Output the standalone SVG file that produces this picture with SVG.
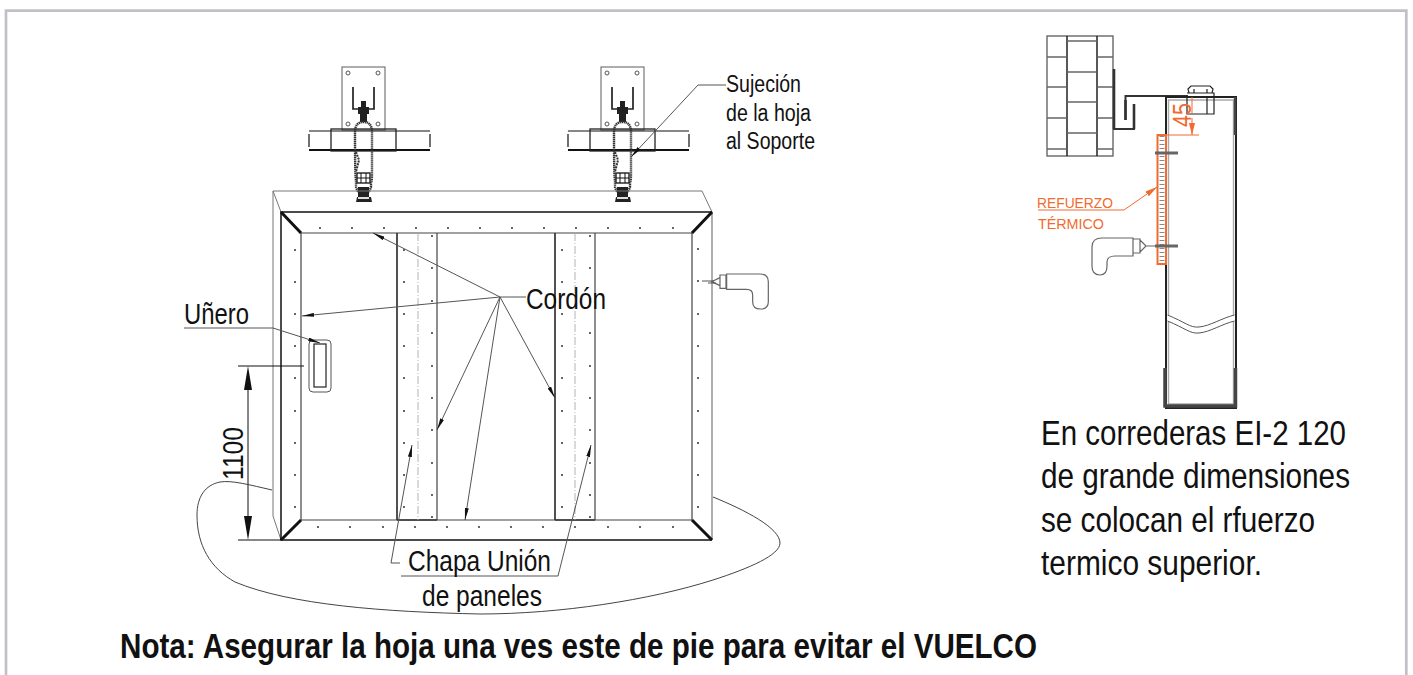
<svg xmlns="http://www.w3.org/2000/svg" width="1413" height="675" viewBox="0 0 1413 675">
<style>
text{font-family:"Liberation Sans",Arial,sans-serif;fill:#111}
.l{fill:none;stroke:#111;stroke-width:1}
.g{fill:none;stroke:#555;stroke-width:1}
.m{fill:none;stroke:#333;stroke-width:1.7}
.t{fill:none;stroke:#444;stroke-width:1.2}
.h{fill:none;stroke:#111;stroke-width:3}
.b{fill:none;stroke:#666;stroke-width:1.5}
.dot{fill:none;stroke:#444;stroke-width:2.2;stroke-linecap:round}
.o{fill:none;stroke:#f26a2e;stroke-width:1}
.ot{fill:#f26a2e;font-size:14px}
.ah{fill:#111}
</style>
<defs>
<marker id="arr" viewBox="0 0 12 4" refX="12" refY="2" markerWidth="12" markerHeight="4" markerUnits="userSpaceOnUse" orient="auto"><path d="M0 0L12 2L0 4z" fill="#111"/></marker>
<marker id="arrO" viewBox="0 0 12 6" refX="12" refY="3" markerWidth="12" markerHeight="6" markerUnits="userSpaceOnUse" orient="auto"><path d="M0 0L12 3L0 6z" fill="#f26a2e"/></marker>
<g id="hanger">
<rect x="342" y="67" width="43" height="63" fill="#fff" stroke="#777" stroke-width="1.2"/>
<circle cx="348" cy="73" r="2" class="g"/><circle cx="378" cy="73" r="2" class="g"/><circle cx="348" cy="124" r="2" class="g"/><circle cx="378" cy="124" r="2" class="g"/>
<path class="m" style="stroke:#222" d="M353 87V109H374V87"/>
<path class="l" style="stroke-width:1.2" d="M309 131H430M309 134V147M430 134V147"/>
<path class="l" style="stroke-width:1.8" d="M309 150H430"/>
<rect x="331" y="129" width="65" height="22" fill="none" stroke="#222" stroke-width="1.3"/>
<path d="M361 101h5v6h3v7h-11v-7h3zM360 114h7v8h-7z" fill="#222"/>
<path fill="none" stroke="#333" stroke-width="2.4" stroke-dasharray="1.4 .6" d="M355 132Q355 122 363.500 122Q372 122 372 132V175Q372 180 371 183V187Q369 194 363.500 194Q358 194 356 187V180Q355 178 355 132z"/>
<path fill="none" stroke="#333" stroke-width="2" stroke-dasharray="2 1" d="M356 152L359 160L356 172"/>
<rect x="357" y="173" width="13" height="10" fill="#fff" stroke="#222" stroke-width="1.4"/>
<path class="l" d="M357 178H370M361 173V183M366 173V183"/>
<path d="M358 187H369V197H371L372 202H356L357 197H358z" fill="#222"/>
<path d="M358 197h11v2h-11z" fill="#ddd"/>
</g>
<path id="drillR" fill="none" stroke="#666" stroke-width="3.600" d="M380 252H480Q505 252 505 275V335Q505 357 482 357Q458 357 458 335V315Q458 298 440 298H380ZM360 255H378V295H360ZM360 263L335 275L360 287"/>
</defs>

<g id="marco"><path d="M6 675V10.700H1406.300V675" fill="none" stroke="#c2c0c6" stroke-width="2.700"/></g>

<g id="soporte-1"><use href="#hanger"/></g>
<g id="soporte-2"><use href="#hanger" x="259"/></g>

<g id="hoja">
<path class="g" style="stroke:#777" d="M281 212L273 191H702L712 212M273 191V516L281 540"/>
<path class="l" style="stroke-width:1.5" d="M712 212H281V540H712"/>
<path class="g" style="stroke:#777;stroke-width:1.2" d="M712 212V540"/>
<path class="t" d="M301 233H692V520H301Z"/>
<path class="h" d="M281 212L301 233M712 212L692 233M281 540L301 520M712 540L692 520"/>
<path class="dot" d="M320 228h0M352 228h0M384 228h0M416 228h0M448 228h0M480 228h0M512 228h0M544 228h0M576 228h0M608 228h0M640 228h0M673 228h0
M318 527h0M350 527h0M383 527h0M415 527h0M447 527h0M479 527h0M511 527h0M543 527h0M575 527h0M608 527h0M640 527h0M673 527h0
M295 250h0M295 282h0M295 314h0M295 346h0M295 378h0M295 411h0M295 443h0M295 475h0M295 507h0
M698 249h0M698 281h0M698 314h0M698 346h0M698 378h0M698 411h0M698 443h0M698 475h0M698 507h0"/>
</g>

<g id="panel-1">
<path class="m" d="M397 233V520M397 520H437"/>
<path class="t" d="M437 233V520"/>
<path d="M418 233V520" fill="none" stroke="#aaa" stroke-width=".9" stroke-dasharray="8 2 1 2"/>
<path class="dot" d="M404 250h0M404 282h0M404 314h0M404 346h0M404 378h0M404 411h0M404 443h0M404 475h0M404 507h0M432 236h0M432 268h0M432 301h0M432 333h0M432 366h0M432 398h0M432 430h0M432 463h0M432 495h0M432 517h0"/>
</g>
<g id="panel-2">
<path class="m" d="M555 233V520M555 520H595"/>
<path class="t" d="M595 233V520"/>
<path d="M575 233V520" fill="none" stroke="#aaa" stroke-width=".9" stroke-dasharray="8 2 1 2"/>
<path class="dot" d="M562 250h0M562 282h0M562 314h0M562 346h0M562 378h0M562 411h0M562 443h0M562 475h0M562 507h0M590 236h0M590 268h0M590 301h0M590 333h0M590 366h0M590 398h0M590 430h0M590 463h0M590 495h0M590 517h0"/>
</g>

<g id="unero">
<rect x="309" y="340" width="22" height="52" rx="4" fill="#fff" stroke="#555" stroke-width="1"/>
<rect x="314" y="344" width="12" height="43" fill="none" stroke="#222" stroke-width="1.2"/>
<text x="184" y="324" font-size="29" textLength="65" lengthAdjust="spacingAndGlyphs">Uñero</text>
</g>

<g id="taladro-hoja"><use href="#drillR" transform="translate(600 190) scale(.3333)"/><path class="g" d="M702 281H714M708 283H716"/></g>

<g id="cota-1100">
<text transform="translate(243 480) rotate(-90)" font-size="29" textLength="53" lengthAdjust="spacingAndGlyphs">1100</text>
</g>

<g id="conectores">
<path class="g" d="M184 328H273L320 343" marker-end="url(#arr)"/>
<path class="g" d="M526 297H500L373 233" marker-end="url(#arr)"/>
<path class="g" d="M500 297L302 316" marker-end="url(#arr)"/>
<path class="g" d="M500 297L437 430" marker-end="url(#arr)"/>
<path class="g" d="M500 297L465 520" marker-end="url(#arr)"/>
<path class="g" d="M500 297L555 398" marker-end="url(#arr)"/>
<path class="g" d="M726 85H698L631 157" marker-end="url(#arr)"/>
<path class="g" d="M400 563H391L412 445" marker-end="url(#arr)"/>
<path class="g" d="M401 576H558L591 445" marker-end="url(#arr)"/>
<path class="l" d="M238 366H304M238 540H281"/>
<path class="l" d="M248 390V516"/>
<path d="M248 366L252 390H244ZM248 540L252 516H244Z" class="ah"/>
<path class="g" style="stroke:#444" d="M272 490C250 485 232 480 220 482C205 485 197 497 197 515C197 545 210 568 235 582C290 605 385 612 480 614C560 614 650 600 713 580C750 568 780 555 780 543C780 528 745 510 713 497"/>
</g>

<g id="textos">
<text x="726" y="92" font-size="23" textLength="75" lengthAdjust="spacingAndGlyphs">Sujeción</text>
<text x="726" y="121" font-size="23" textLength="85" lengthAdjust="spacingAndGlyphs">de la hoja</text>
<text x="726" y="149" font-size="23" textLength="89" lengthAdjust="spacingAndGlyphs">al Soporte</text>
<text x="526" y="309" font-size="30" textLength="80" lengthAdjust="spacingAndGlyphs">Cordón</text>
<text x="408" y="571" font-size="29" textLength="143" lengthAdjust="spacingAndGlyphs">Chapa Unión</text>
<text x="422" y="606" font-size="29" textLength="120" lengthAdjust="spacingAndGlyphs">de paneles</text>
<text x="120" y="658" font-size="35" font-weight="bold" textLength="917" lengthAdjust="spacingAndGlyphs">Nota: Asegurar la hoja una ves este de pie para evitar el VUELCO</text>
<text x="1041" y="445" font-size="35" textLength="305" lengthAdjust="spacingAndGlyphs">En correderas EI-2 120</text>
<text x="1041" y="488" font-size="35" textLength="309" lengthAdjust="spacingAndGlyphs">de grande dimensiones</text>
<text x="1041" y="532" font-size="35" textLength="274" lengthAdjust="spacingAndGlyphs">se colocan el rfuerzo</text>
<text x="1041" y="575" font-size="35" textLength="221" lengthAdjust="spacingAndGlyphs">termico superior.</text>
</g>

<g id="muro">
<rect x="1047" y="36" width="66" height="120" fill="#fff" stroke="#666" stroke-width="1.4"/>
<path class="b" style="stroke:#222" d="M1067 36V156M1097 36V156"/>
<path class="b" d="M1047 57H1067M1047 87H1067M1047 118H1067M1047 149H1067M1097 57H1113M1097 87H1113M1097 118H1113M1097 149H1113M1067 41H1097M1067 72H1097M1067 102H1097M1067 133H1097"/>
</g>

<g id="detalle-guia">
<path class="m" style="stroke-width:2" d="M1114 69V129H1134V104"/>
<path class="m" style="stroke-width:2" d="M1125.500 120V96H1188"/>
<path d="M1114 69V129M1125.500 120V100M1134 129V104" fill="none" stroke="#333" stroke-width="2.6"/>
</g>

<g id="detalle-tubo">
<path fill="none" stroke="#222" stroke-width="2" d="M1166 408V97H1236V408Z"/>
<path fill="none" stroke="#aaa" stroke-width="1.4" d="M1168.500 315V100H1233.500V315M1168.500 321V404H1233.500V321"/>
<path fill="none" stroke="#444" stroke-width="2.4" d="M1235 97V135"/>
<path class="g" d="M1167.500 315C1185 322 1190 328 1199 327C1210 326 1222 318 1234.500 315M1167.500 321C1185 328 1190 334 1199 333C1210 332 1222 324 1234.500 321"/>
<path fill="none" stroke="#444" stroke-width="3.500" d="M1165 368V406H1235.500V368"/>
<path fill="none" stroke="#222" stroke-width="1.2" d="M1189 93L1188 89L1191 86H1210L1213 89L1212 93ZM1187 93H1214V97M1187 97V114H1214V97M1207 97V114M1194 89V93M1207 89V93"/>
</g>

<g id="refuerzo">
<rect x="1157.500" y="135" width="8.500" height="129" fill="#fff" stroke="#f26a2e" stroke-width="2"/>
<path d="M1162 136V263" fill="none" stroke="#888" stroke-width="5" stroke-dasharray="1 3"/>
<path d="M1155 153H1178M1155 246H1178" fill="none" stroke="#666" stroke-width="3"/>
<path class="o" d="M1038 210H1124L1157 187" marker-end="url(#arrO)"/>
<text class="ot" x="1037" y="208" textLength="76" lengthAdjust="spacingAndGlyphs">REFUERZO</text>
<text class="ot" x="1038" y="229" textLength="66" lengthAdjust="spacingAndGlyphs">TÉRMICO</text>
</g>

<g id="cota-45">
<path class="o" d="M1166 135H1199M1192 97V114"/>
<path class="o" d="M1192 118V135" marker-end="url(#arrO)"/>
<text transform="translate(1191 127) rotate(-90)" font-size="25" style="fill:#f26a2e" textLength="24" lengthAdjust="spacingAndGlyphs">45</text>
</g>

<g id="taladro-detalle">
<path class="g" style="stroke-width:1.2;stroke:#666" d="M1133 238H1102Q1092 238 1092 247V266Q1092 275 1100 275Q1107 275 1107 266V262Q1107 256 1115 256H1133ZM1133 239H1140V253H1133ZM1140 240L1146 246L1140 252M1146 246H1155"/>
</g>
</svg>
